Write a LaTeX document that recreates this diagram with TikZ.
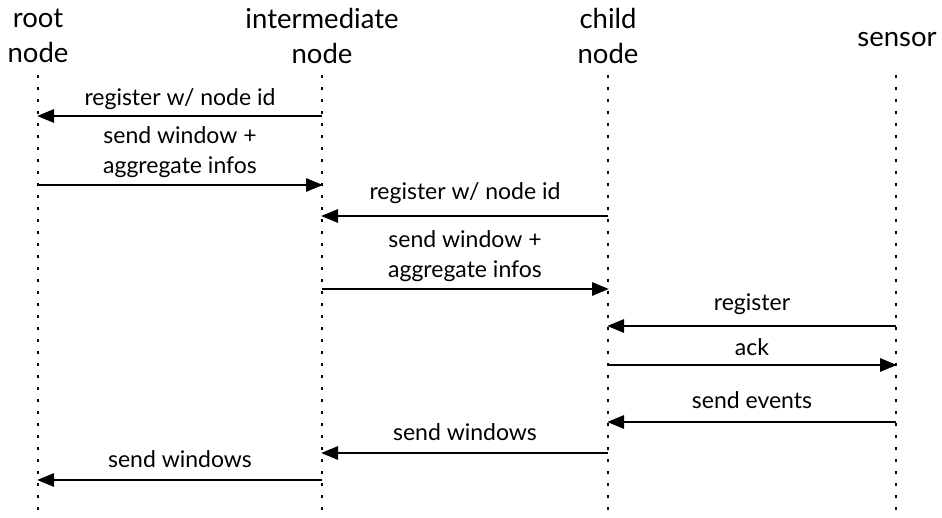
\documentclass[tikz,border=0pt]{standalone}
\usepackage{fontspec}
\setmainfont{Lato}
\usetikzlibrary{arrows.meta}
\begin{document}
\begin{tikzpicture}[x=1pt,y=-1pt,
  head/.style={font=\fontsize{27.5}{35}\selectfont, align=center, inner sep=0pt},
  lbl/.style={font=\fontsize{23}{29.5}\selectfont, align=center, inner sep=0pt},
  lifeline/.style={line width=2.6pt, dash pattern=on 2.6pt off 9.4pt},
  msg/.style={line width=2.8pt, -{Triangle[length=17pt,width=13pt]}, shorten >=-1pt}]
\useasboundingbox (0,0) rectangle (942,518);

% participants
\node[head] (root) at (38,36) {root\\node};
\node[head] (inter) at (322,36) {intermediate\\node};
\node[head] (child) at (608,36) {child\\node};
\node[head] (sensor) at (897,40) {sensor};

% lifelines
\foreach \n/\x in {r/38,i/322,c/608,s/896}{
  \coordinate (\n top) at (\x,75);
  \coordinate (\n bot) at (\x,518);
  \draw[lifeline] (\n top) -- (\n bot);
}

% message end points on the lifelines
\coordinate (i1) at (322,116); \coordinate (r1) at (38,116);
\coordinate (r2) at (38,185);  \coordinate (i2) at (322,185);
\coordinate (c3) at (608,216); \coordinate (i3) at (322,216);
\coordinate (i4) at (322,289); \coordinate (c4) at (608,289);
\coordinate (s5) at (896,326); \coordinate (c5) at (608,326);
\coordinate (c6) at (608,365); \coordinate (s6) at (896,365);
\coordinate (s7) at (896,422); \coordinate (c7) at (608,422);
\coordinate (c8) at (608,453); \coordinate (i8) at (322,453);
\coordinate (i9) at (322,480); \coordinate (r9) at (38,480);

% messages
\draw[msg] (i1) -- (r1);
\draw[msg] (r2) -- (i2);
\draw[msg] (c3) -- (i3);
\draw[msg] (i4) -- (c4);
\draw[msg] (s5) -- (c5);
\draw[msg] (c6) -- (s6);
\draw[msg] (s7) -- (c7);
\draw[msg] (c8) -- (i8);
\draw[msg] (i9) -- (r9);

% message labels
\node[lbl] (l1) at (180,99) {register w/ node id};
\node[lbl] (l2) at (180,152) {send window +\\aggregate infos};
\node[lbl] (l3) at (465,193) {register w/ node id};
\node[lbl] (l4) at (465,256) {send window +\\aggregate infos};
\node[lbl] (l5) at (752,304) {register};
\node[lbl] (l6) at (752,347) {ack};
\node[lbl] (l7) at (752,400) {send events};
\node[lbl] (l8) at (465,432) {send windows};
\node[lbl] (l9) at (180,459) {send windows};
\end{tikzpicture}
\end{document}
